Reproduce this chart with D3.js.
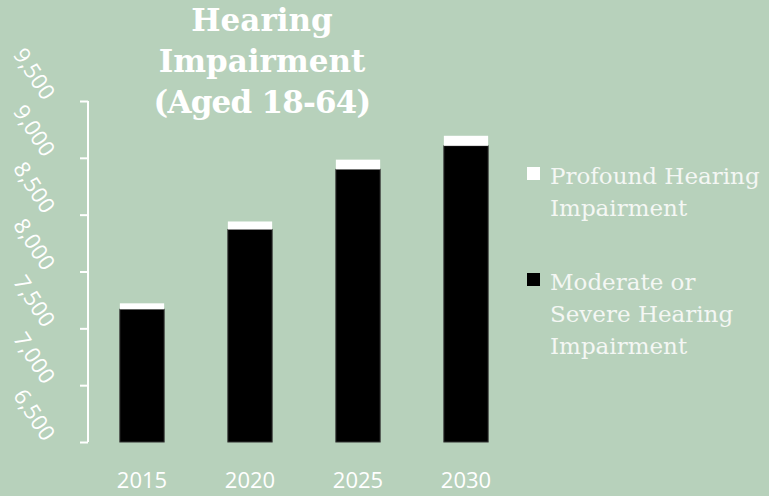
<!DOCTYPE html>
<html>
<head>
<meta charset="utf-8">
<script src="https://cdn.jsdelivr.net/npm/d3@7"></script>
<style>
    html, body { margin: 0; padding: 0; background: #b7d1bb; }
    svg { display: block; }
</style>
</head>
<body>
<div id="chart"></div>
<script>
// chart data
var years = ["2015", "2020", "2025", "2030"]
var moderateSevere = [7668, 8370, 8899, 9106]
var profound = [52, 70, 85, 88]
var yTicks = [6500, 7000, 7500, 8000, 8500, 9000, 9500]
var titleLines = ["Hearing", "Impairment", "(Aged 18-64)"]
var legendItems = [
    { lines: ["Profound Hearing", "Impairment"], color: "#ffffff" },
    { lines: ["Moderate or", "Severe Hearing", "Impairment"], color: "#000000" }
]

var width = 769,
    height = 496,
    plotLeft = 88,
    plotRight = 520,
    plotTop = 101,
    plotBottom = 442,
    yMin = 6500

var svg = d3.select("#chart").append("svg")
    .attr("width", width)
    .attr("height", height)

svg.append("rect")
    .attr("width", width)
    .attr("height", height)
    .style("fill", "#b7d1bb")

var x = d3.scaleBand()
    .domain(years)
    .range([plotLeft, plotRight])
    .paddingInner(0.59)
    .paddingOuter(0.295)

var y = d3.scaleLinear()
    .domain([yMin, 9500])
    .range([plotBottom, plotTop])

// stacked bars: moderate/severe at bottom, profound on top
var stackData = years.map(function(d, i) {
    return { year: d, moderate: moderateSevere[i], profound: profound[i] }
})

var series = d3.stack().keys(["moderate", "profound"])(stackData)
var colors = { moderate: "#000000", profound: "#ffffff" }

svg.selectAll(".series")
    .data(series)
    .enter().append("g")
    .attr("class", "series")
    .style("fill", function(d) { return colors[d.key] })
    .style("stroke", function(d) { return d.key == "moderate" ? "#333" : "none" })
    .style("stroke-width", 1)
    .selectAll("rect")
    .data(function(d) { return d })
    .enter().append("rect")
    .attr("x", function(d) { return x(d.data.year) })
    .attr("width", x.bandwidth())
    .attr("y", function(d) { return y(d[1]) })
    .attr("height", function(d) {
        var lo = Math.max(d[0], yMin)
        return y(lo) - y(d[1])
    })

// y axis
var yAxis = d3.axisLeft(y)
    .tickValues(yTicks)
    .tickSize(8)
    .tickFormat(d3.format(","))

var gy = svg.append("g")
    .attr("transform", "translate(" + plotLeft + ",0)")
    .call(yAxis)

gy.select(".domain").remove()
gy.append("line")
    .attr("x1", 0).attr("x2", 0)
    .attr("y1", plotTop).attr("y2", plotBottom)
    .style("stroke", "#fff")
    .style("stroke-width", 2)
gy.selectAll(".tick line")
    .style("stroke", "#fff")
    .style("stroke-width", 2)
gy.selectAll(".tick text")
    .attr("x", null)
    .attr("dy", null)
    .attr("text-anchor", "end")
    .attr("transform", "translate(-45,0) rotate(57)")
    .style("fill", "#fff")
    .style("font-family", "Open Sans")
    .style("font-size", "22px")

// x labels
svg.selectAll(".xlabel")
    .data(years)
    .enter().append("text")
    .attr("class", "xlabel")
    .attr("x", function(d) { return x(d) + x.bandwidth() / 2 })
    .attr("y", 488)
    .attr("text-anchor", "middle")
    .style("fill", "#fff")
    .style("font-family", "Open Sans")
    .style("font-size", "22px")
    .text(function(d) { return d })

// title
svg.append("text")
    .attr("x", 262)
    .attr("y", 31)
    .attr("text-anchor", "middle")
    .style("fill", "#fff")
    .style("font-family", "DejaVu Serif")
    .style("font-weight", "bold")
    .style("font-size", "31px")
    .selectAll("tspan")
    .data(titleLines)
    .enter().append("tspan")
    .attr("x", 262)
    .attr("dy", function(d, i) { return i == 0 ? 0 : 41 })
    .style("letter-spacing", function(d, i) { return i == 2 ? "-0.8px" : null })
    .text(function(d) { return d })

// legend
var legend = svg.selectAll(".legend")
    .data(legendItems)
    .enter().append("g")
    .attr("class", "legend")
    .attr("transform", function(d, i) { return "translate(527," + (i == 0 ? 167 : 273) + ")" })

legend.append("rect")
    .attr("width", 13)
    .attr("height", 13)
    .style("fill", function(d) { return d.color })

legend.append("text")
    .attr("x", 23)
    .attr("y", 17)
    .style("fill", "#f4f7f4")
    .style("font-family", "DejaVu Serif")
    .style("font-size", "23px")
    .selectAll("tspan")
    .data(function(d) { return d.lines })
    .enter().append("tspan")
    .attr("x", 23)
    .attr("dy", function(d, i) { return i == 0 ? 0 : 32 })
    .text(function(d) { return d })
</script>
</body>
</html>
